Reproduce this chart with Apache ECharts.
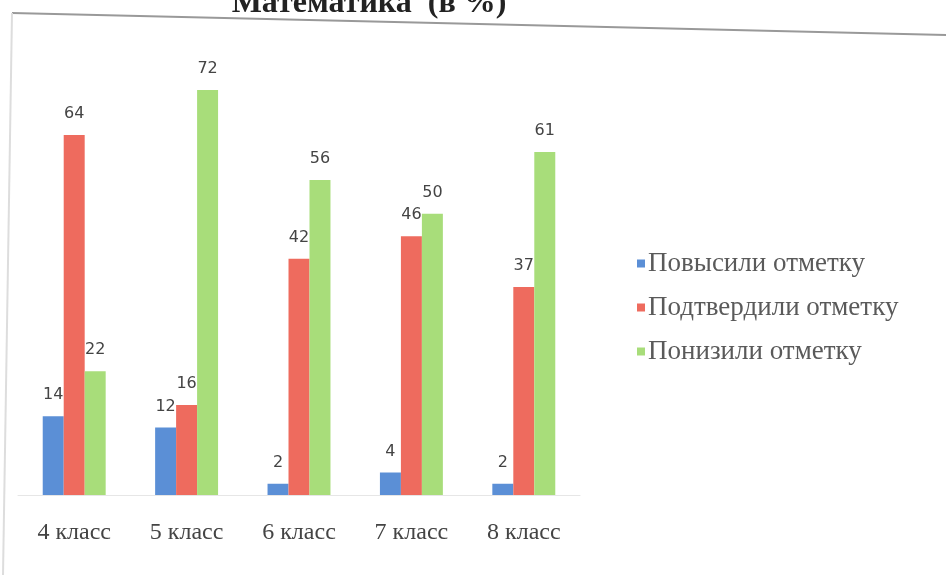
<!DOCTYPE html>
<html>
<head>
<meta charset="utf-8">
<script src="https://cdn.jsdelivr.net/npm/echarts@6/dist/echarts.min.js"></script>
<style>
  html, body { margin: 0; padding: 0; background: #fff; }
  #chart { width: 946px; height: 575px; }
</style>
</head>
<body>
<div id="chart"></div>
<script>
// классы
const classes = ['4 класс', '5 класс', '6 класс', '7 класс', '8 класс'];
// значения в процентах
const raised = [14, 12, 2, 4, 2];
const confirmed = [64, 16, 42, 46, 37];
const lowered = [22, 72, 56, 50, 61];
const seriesNames = ['Повысили отметку', 'Подтвердили отметку', 'Понизили отметку'];

const chart = echarts.init(document.getElementById('chart'));

const labelStyle = {
  show: true,
  position: 'top',
  distance: 13,
  color: '#444',
  fontSize: 16,
  fontFamily: 'DejaVu Sans'
};

chart.setOption({
  animation: false,
  color: ['#5b8fd6', '#ee6b5e', '#a8dd7a'],
  title: {
    text: 'Математика  (в %)',
    left: 369,
    top: -12,
    padding: 0,
    textAlign: 'center',
    textStyle: {
      fontFamily: 'Liberation Serif',
      fontWeight: 'bold',
      fontSize: 32,
      color: '#222'
    }
  },
  graphic: [
    // рамка скана
    { type: 'line', shape: { x1: 12, y1: 13, x2: 946, y2: 35 }, style: { stroke: '#999', lineWidth: 2 } },
    { type: 'line', shape: { x1: 12, y1: 13, x2: 3, y2: 575 }, style: { stroke: '#ddd', lineWidth: 2 } }
  ],
  legend: {
    orient: 'vertical',
    left: 632,
    top: 245,
    itemWidth: 8,
    itemHeight: 8,
    itemGap: 17,
    icon: 'rect',
    textStyle: {
      fontFamily: 'Liberation Serif',
      fontSize: 27,
      color: '#5a5a5a',
      padding: [0, 0, 0, -2]
    },
    data: seriesNames
  },
  grid: {
    left: 18,
    right: 366,
    top: 45,
    bottom: 80
  },
  xAxis: {
    type: 'category',
    data: classes,
    axisLine: { show: true, lineStyle: { color: '#e6e6e6' } },
    axisTick: { show: false },
    axisLabel: {
      margin: 26,
      fontFamily: 'Liberation Serif',
      fontSize: 24,
      color: '#444'
    }
  },
  yAxis: {
    type: 'value',
    min: 0,
    max: 80,
    show: false,
    splitLine: { show: false }
  },
  series: [
    { name: seriesNames[0], type: 'bar', data: raised, barGap: '0%', barCategoryGap: '44%', label: labelStyle },
    { name: seriesNames[1], type: 'bar', data: confirmed, barGap: '0%', barCategoryGap: '44%', label: labelStyle },
    { name: seriesNames[2], type: 'bar', data: lowered, barGap: '0%', barCategoryGap: '44%', label: labelStyle }
  ]
});
</script>
</body>
</html>
